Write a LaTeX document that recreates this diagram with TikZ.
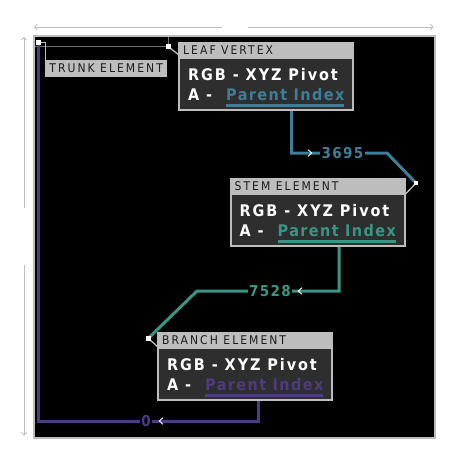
\documentclass[tikz,border=0pt]{standalone}
\usepackage{fontspec}
\usetikzlibrary{arrows.meta}
\newfontfamily\bodyfont[LetterSpace=12]{DejaVu Sans Condensed Bold}
\newfontfamily\pifont[LetterSpace=9]{DejaVu Sans Condensed Bold}
\newfontfamily\headfont[LetterSpace=17]{DejaVu Sans Condensed}
\definecolor{lgray}{HTML}{BDBDBD}
\definecolor{boxdark}{HTML}{2E2E2E}
\definecolor{headtext}{HTML}{1C1C1C}
\definecolor{cblue}{HTML}{3E7E98}
\definecolor{cteal}{HTML}{3A9585}
\definecolor{cpurple}{HTML}{4E3B80}
\definecolor{projgray}{HTML}{707070}
\tikzset{
  axisline/.style={draw=lgray, line width=0.8pt, -{Straight Barb[length=2.5pt,width=5.5pt]}},
  outerbox/.style={fill=lgray, minimum width=176pt, minimum height=69pt, inner sep=0pt, anchor=north west},
  innerbox/.style={fill=boxdark, minimum width=172pt, minimum height=50pt, inner sep=0pt, anchor=north west},
  headtxt/.style={font=\headfont\fontsize{12}{12}\selectfont, text=headtext, inner sep=0pt, anchor=base west},
  bodytxt/.style={font=\bodyfont\fontsize{16}{16}\selectfont, text=white, inner sep=0pt, anchor=base west},
  pitxt/.style={font=\pifont\fontsize{16}{16}\selectfont, inner sep=0pt, anchor=base west},
  numlbl/.style={font=\pifont\fontsize{15}{15}\selectfont, fill=black, inner xsep=1.5pt, inner ysep=1pt},
  conn/.style={draw=#1, line width=3pt},
  chev/.style={draw=white, line width=0.9pt},
  leader/.style={draw=lgray, line width=1.3pt},
  projline/.style={draw=projgray, line width=1.2pt},
  sq/.style={fill=white, minimum size=4.5pt, inner sep=0pt}
}
\newcommand\elementbox[5]{%
  \begin{scope}[shift={(#2,#3)}]
    \node[outerbox] (#1box) at (0,0) {};
    \node[innerbox] (#1inner) at (2,17) {};
    \node[headtxt] (#1title) at (5,12.9) {#4};
    \node[bodytxt] (#1rgb) at (10,38.8) {RGB - XYZ Pivot};
    \node[bodytxt] (#1alpha) at (10,58.9) {A -};
    \node[pitxt, text=#5] (#1parent) at (48,58.9) {Parent Index};
    \coordinate (#1ulleft) at (48,63.7);
    \coordinate (#1ulright) at (166,63.7);
    \draw[conn=#5] (#1ulleft) -- (#1ulright);
  \end{scope}}
\begin{document}
\begin{tikzpicture}[x=1pt,y=-1pt]
\useasboundingbox[fill=white] (0,0) rectangle (456,459);
% axes
\coordinate (ta1) at (222,27); \coordinate (ta2) at (34,27);
\coordinate (tb1) at (248,27); \coordinate (tb2) at (433.5,27);
\coordinate (la1) at (24,208); \coordinate (la2) at (24,37);
\coordinate (lb1) at (24,265); \coordinate (lb2) at (24,435.5);
\draw[axisline] (ta1) -- (ta2);
\draw[axisline] (tb1) -- (tb2);
\draw[axisline] (la1) -- (la2);
\draw[axisline] (lb1) -- (lb2);
% frame
\draw[lgray, line width=2pt, fill=black] (33.5,36) rectangle (434.5,437.5);
% square positions
\coordinate (trunkpos) at (38.3,42.3);
\coordinate (leafpos) at (168.3,46.7);
\coordinate (stempos) at (416,183);
\coordinate (branchpos) at (148.3,338.3);
% projection lines of leaf vertex
\coordinate (projl) at (34.5,46.7);
\coordinate (projt) at (168.3,37);
\draw[projline] (projl) -- (leafpos);
\draw[projline] (projt) -- (leafpos);
% connectors
\coordinate (leafout) at (291.7,105.7);
\coordinate (leafbend) at (387,153);
\coordinate (stemout) at (339,241);
\coordinate (stembend) at (197,291);
\coordinate (branchout) at (258.7,395);
\coordinate (branchbend) at (38.3,421);
\draw[conn=cblue] (leafout) |- (leafbend) -- (stempos);
\draw[conn=cteal] (stemout) |- (stembend) -- (branchpos);
\draw[conn=cpurple] (branchout) |- (branchbend) -- (trunkpos);
% leaders
\coordinate (leafhd) at (179,55);
\coordinate (stemhd) at (406,193.5);
\coordinate (branchhd) at (158,347);
\coordinate (trunkhd) at (45.5,60);
\draw[leader] (leafpos) -- (leafhd);
\draw[leader] (stempos) -- (stemhd);
\draw[leader] (branchpos) -- (branchhd);
\draw[leader] (trunkpos) -| (trunkhd);
% element boxes
\elementbox{leaf}{178}{42}{LEAF VERTEX}{cblue}
\elementbox{stem}{229.5}{177.5}{STEM ELEMENT}{cteal}
\elementbox{branch}{157}{332}{BRANCH ELEMENT}{cpurple}
% trunk label
\node[fill=lgray, minimum width=122pt, minimum height=17pt, inner sep=0pt, anchor=north west,
      font=\headfont\fontsize{12}{12}\selectfont, text=headtext] (trunk) at (45,60) {TRUNK ELEMENT};
% number labels
\node[numlbl, text=cblue] (n3695) at (342.5,153) {3695};
\node[numlbl, text=cteal] (n7528) at (270,291) {7528};
\node[numlbl, text=cpurple] (n0) at (146,421) {0};
% chevrons
\draw[chev] (308,149.7) -- (311.7,153) -- (308,156.3);
\draw[chev] (302,287.7) -- (298.3,291) -- (302,294.3);
\draw[chev] (163,417.7) -- (159.3,421) -- (163,424.3);
% squares
\node[sq] (trunksq) at (trunkpos) {};
\node[sq] (leafsq) at (leafpos) {};
\node[sq] (stemsq) at (stempos) {};
\node[sq] (branchsq) at (branchpos) {};
\end{tikzpicture}
\end{document}
